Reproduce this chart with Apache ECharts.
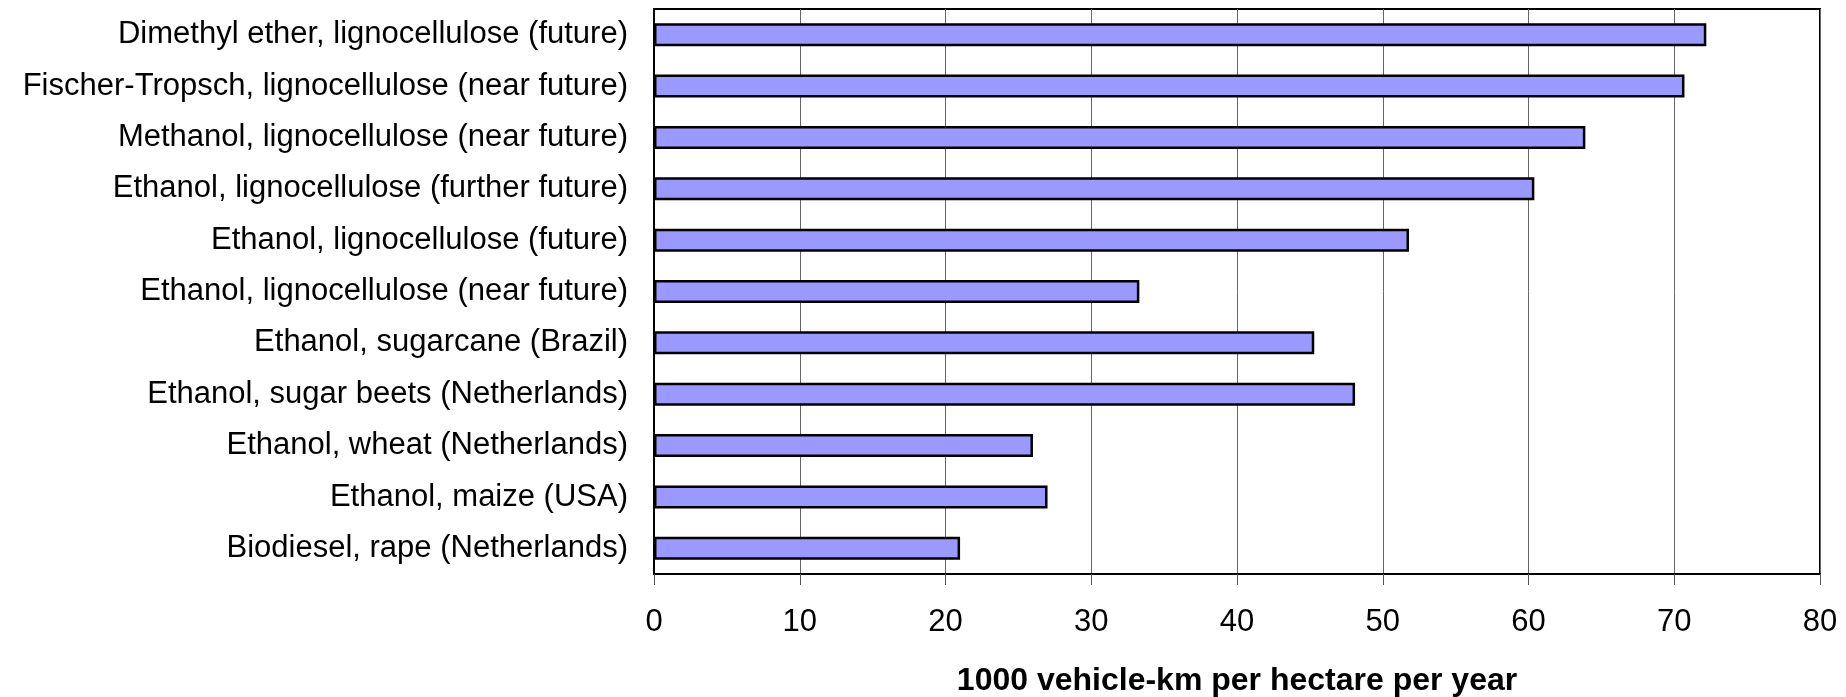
<!DOCTYPE html>
<html>
<head>
<meta charset="utf-8">
<title>Vehicle-km per hectare by biofuel route</title>
<script src="https://cdn.jsdelivr.net/npm/echarts@6/dist/echarts.min.js"></script>
<style>
  html, body { margin: 0; padding: 0; background: #ffffff; }
  #chart { width: 1846px; height: 697px; }
</style>
</head>
<body>
<div id="chart"></div>
<script>
// Fuel routes, listed top to bottom
const categories = [
  'Dimethyl ether, lignocellulose (future)',
  'Fischer-Tropsch, lignocellulose (near future)',
  'Methanol, lignocellulose (near future)',
  'Ethanol, lignocellulose (further future)',
  'Ethanol, lignocellulose (future)',
  'Ethanol, lignocellulose (near future)',
  'Ethanol, sugarcane (Brazil)',
  'Ethanol, sugar beets (Netherlands)',
  'Ethanol, wheat (Netherlands)',
  'Ethanol, maize (USA)',
  'Biodiesel, rape (Netherlands)'
];

// 1000 vehicle-km per hectare per year
const values = [72.2, 70.7, 63.9, 60.4, 51.8, 33.3, 45.3, 48.1, 26.0, 27.0, 21.0];

const axisTitle = '1000 vehicle-km per hectare per year';
const xMin = 0;
const xMax = 80;
const xStep = 10;

const chart = echarts.init(document.getElementById('chart'), null, { renderer: 'canvas' });

chart.setOption({
  backgroundColor: '#ffffff',
  animation: false,
  grid: {
    left: 654,
    right: 26,
    top: 9,
    bottom: 123,
    containLabel: false,
    outerBoundsMode: 'none',
    show: true,
    borderColor: '#000000',
    borderWidth: 2,
    backgroundColor: 'transparent'
  },
  xAxis: {
    type: 'value',
    min: xMin,
    max: xMax,
    interval: xStep,
    name: axisTitle,
    nameLocation: 'middle',
    nameGap: 91,
    nameMoveOverlap: false,
    nameTextStyle: {
      fontFamily: 'Liberation Sans, Arial, sans-serif',
      fontWeight: 'bold',
      fontSize: 32,
      color: '#000000'
    },
    axisLine: { show: true, lineStyle: { color: '#000000', width: 2 } },
    axisTick: { show: true, length: 11, inside: false, lineStyle: { color: '#555555', width: 1 } },
    axisLabel: {
      margin: 33,
      fontFamily: 'Liberation Sans, Arial, sans-serif',
      fontSize: 31,
      color: '#000000'
    },
    splitLine: { show: true, lineStyle: { color: '#666666', width: 1 } }
  },
  yAxis: {
    type: 'category',
    data: categories,
    inverse: true,
    axisLine: { show: true, lineStyle: { color: '#000000', width: 2 } },
    axisTick: { show: false },
    axisLabel: {
      margin: 26,
      fontFamily: 'Liberation Sans, Arial, sans-serif',
      fontSize: 31,
      color: '#000000',
      padding: [4, 0, 0, 0]
    },
    splitLine: { show: false }
  },
  series: [{
    type: 'bar',
    data: values,
    barWidth: 23,
    itemStyle: {
      color: '#9999ff',
      borderColor: '#000000',
      borderWidth: 2.5
    }
  }]
});
</script>
</body>
</html>
